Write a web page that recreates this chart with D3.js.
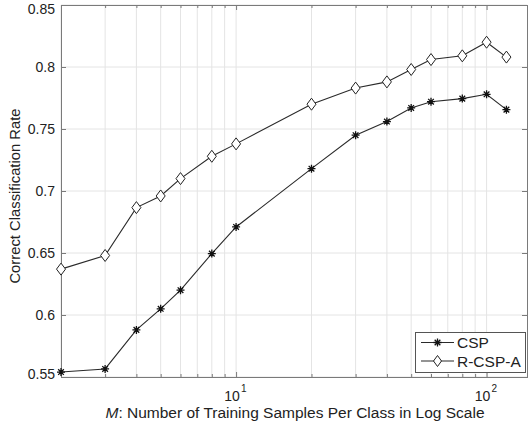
<!DOCTYPE html>
<html><head><meta charset="utf-8">
<script src="https://cdn.jsdelivr.net/npm/d3@7"></script>
<style>body{margin:0;background:#fff}svg{display:block;font-family:"Liberation Sans",Arial,sans-serif}</style>
</head><body>
<svg id="c" width="528" height="428"></svg>
<script>
const samples = [2, 3, 4, 5, 6, 8, 10, 20, 30, 40, 50, 60, 80, 100, 120];
const csp = [0.554, 0.5565, 0.588, 0.605, 0.620, 0.6495, 0.671, 0.718, 0.745, 0.756, 0.767, 0.772, 0.7745, 0.778, 0.7656];
const rcspa = [0.637, 0.648, 0.6866, 0.696, 0.710, 0.728, 0.738, 0.770, 0.783, 0.788, 0.798, 0.806, 0.809, 0.820, 0.808];
const yTicks = [0.55, 0.6, 0.65, 0.7, 0.75, 0.8, 0.85];
const xMajor = [10, 100];
const xMinor = [2,3,4,5,6,7,8,9,20,30,40,50,60,70,80,90];
const seriesNames = ["CSP", "R-CSP-A"];

const L = 61, R = 527, T = 5, B = 377;
const x = d3.scaleLog().domain([2, 145]).range([L, R]);
const y = d3.scaleLinear().domain([0.55, 0.85]).range([B, T]);
const svg = d3.select("#c");
const axisCol = "#7a7a7a", gridCol = "#e4e4e4", lineCol = "#2a2a2a";

// grid
svg.append("g").selectAll("line").data(xMinor.concat(xMajor)).join("line")
  .attr("x1", d => x(d)).attr("x2", d => x(d)).attr("y1", T).attr("y2", B)
  .attr("stroke", gridCol).attr("stroke-width", 1);
svg.append("g").selectAll("line").data(yTicks).join("line")
  .attr("x1", L).attr("x2", R).attr("y1", d => y(d)).attr("y2", d => y(d))
  .attr("stroke", gridCol).attr("stroke-width", 1);

// axes
const ax = svg.append("g").attr("transform", `translate(0,${B})`)
  .call(d3.axisBottom(x).tickValues(xMajor).tickSize(-5).tickFormat(() => ""));
const axT = svg.append("g").attr("transform", `translate(0,${T})`)
  .call(d3.axisTop(x).tickValues(xMajor).tickSize(-5).tickFormat(() => ""));
const axm = svg.append("g").attr("transform", `translate(0,${B})`)
  .call(d3.axisBottom(x).tickValues(xMinor).tickSize(-3).tickFormat(() => ""));
const axmT = svg.append("g").attr("transform", `translate(0,${T})`)
  .call(d3.axisTop(x).tickValues(xMinor).tickSize(-3).tickFormat(() => ""));
const ay = svg.append("g").attr("transform", `translate(${L},0)`)
  .call(d3.axisLeft(y).tickValues(yTicks).tickSize(-5).tickPadding(6).tickFormat(d => d3.format("")(+d.toFixed(2))));
const ayR = svg.append("g").attr("transform", `translate(${R},0)`)
  .call(d3.axisRight(y).tickValues(yTicks).tickSize(-5).tickFormat(() => ""));
[ax, axT, axm, axmT, ay, ayR].forEach(g => {
  g.selectAll("path.domain").attr("stroke", axisCol);
  g.selectAll(".tick line").attr("stroke", axisCol);
});
ay.selectAll("text").attr("font-size", 14).attr("fill", "#222").attr("font-family", "Liberation Sans, Arial");
ay.selectAll(".tick").filter(d => Math.abs(d - 0.55) < 1e-6).select("text").attr("dy", "0.12em");
ay.selectAll(".tick").filter(d => Math.abs(d - 0.85) < 1e-6).select("text").attr("dy", "0.6em");

// x major labels with superscripts
const xl = svg.append("g");
xMajor.forEach(v => {
  xl.append("text").attr("x", x(v) - 4).attr("y", 401).attr("text-anchor", "middle")
    .attr("font-size", 14).attr("fill", "#222").text("10");
  xl.append("text").attr("x", x(v) + 5).attr("y", 392).attr("font-size", 10).attr("fill", "#222")
    .text(String(Math.round(Math.log10(v))));
});

// axis labels
const xt = svg.append("text").attr("x", (L + R) / 2 + 1).attr("y", 418).attr("text-anchor", "middle")
  .attr("font-size", 15.5).attr("fill", "#222");
xt.append("tspan").attr("font-style", "italic").text("M");
xt.append("tspan").text(": Number of Training Samples Per Class in Log Scale");
svg.append("text").attr("transform", `translate(20,196) rotate(-90)`)
  .attr("text-anchor", "middle").attr("font-size", 14.8).attr("fill", "#222").text("Correct Classification Rate");

// lines
const line = d3.line().x(d => x(d[0])).y(d => y(d[1]));
const dsets = [csp, rcspa];
dsets.forEach(vals => {
  svg.append("path").datum(samples.map((s, i) => [s, vals[i]]))
    .attr("d", line).attr("fill", "none").attr("stroke", lineCol).attr("stroke-width", 1.1);
});

function star(g, cx, cy, r) {
  const p = [];
  for (let k = 0; k < 4; k++) {
    const a = k * Math.PI / 4;
    p.push(`M${cx - r * Math.cos(a)},${cy - r * Math.sin(a)}L${cx + r * Math.cos(a)},${cy + r * Math.sin(a)}`);
  }
  g.append("path").attr("d", p.join("")).attr("stroke", "#111").attr("stroke-width", 1.3).attr("fill", "none");
}
function diamond(g, cx, cy, rx, ry) {
  g.append("path").attr("d", `M${cx},${cy - ry}L${cx + rx},${cy}L${cx},${cy + ry}L${cx - rx},${cy}Z`)
    .attr("fill", "#fff").attr("stroke", "#222").attr("stroke-width", 1);
}
const mk = svg.append("g");
samples.forEach((s, i) => star(mk, x(s), y(csp[i]), 4));
samples.forEach((s, i) => diamond(mk, x(s), y(rcspa[i]), 4.5, 6));

// legend
const lg = svg.append("g");
lg.append("rect").attr("x", 415.5).attr("y", 332.5).attr("width", 110).attr("height", 40)
  .attr("fill", "#fff").attr("stroke", "#555").attr("stroke-width", 1);
seriesNames.forEach((n, i) => {
  const ly = 342.5 + i * 18.5;
  lg.append("line").attr("x1", 421).attr("x2", 454).attr("y1", ly).attr("y2", ly).attr("stroke", lineCol).attr("stroke-width", 1.1);
  if (i === 0) star(lg, 437.5, ly, 4); else diamond(lg, 437.5, ly, 4, 5.5);
  lg.append("text").attr("x", 457).attr("y", ly + 5.5).attr("font-size", 15.5).attr("fill", "#222").text(n);
});
</script>
</body></html>
